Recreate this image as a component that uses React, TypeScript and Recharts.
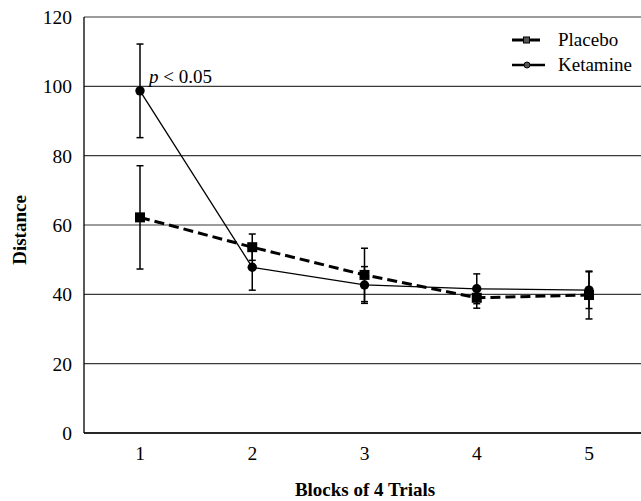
import React from 'react';
import {
  LineChart,
  Line,
  XAxis,
  YAxis,
  CartesianGrid,
  ErrorBar,
  Legend,
  LabelList,
} from 'recharts';

const blocks = ['1', '2', '3', '4', '5'];
const placeboMean = [62.2, 53.6, 45.6, 39.0, 39.8];
const placeboErr = [14.9, 3.8, 7.7, 3.0, 6.9];
const ketamineMean = [98.7, 47.8, 42.7, 41.6, 41.2];
const ketamineErr = [13.5, 6.6, 5.3, 4.3, 5.3];
const yTicks = [0, 20, 40, 60, 80, 100, 120];
const seriesNames = ['Placebo', 'Ketamine'];

const data = blocks.map((b, i) => ({
  block: b,
  placebo: placeboMean[i],
  placeboErr: placeboErr[i],
  ketamine: ketamineMean[i],
  ketamineErr: ketamineErr[i],
}));

const FONT = '"Liberation Serif", "Times New Roman", serif';

const SquareDot = (props: any) => {
  const { cx, cy } = props;
  if (cx == null || cy == null) return null;
  return <rect x={cx - 5} y={cy - 5} width={10} height={10} fill="#000" />;
};

const CircleDot = (props: any) => {
  const { cx, cy } = props;
  if (cx == null || cy == null) return null;
  return <circle cx={cx} cy={cy} r={4.7} fill="#000" />;
};

const renderLegend = () => (
  <svg width={136} height={56} style={{ display: 'block' }}>
    <line x1={7} x2={35} y1={15} y2={15} stroke="#000" strokeWidth={3} />
    <rect x={18.5} y={12} width={6} height={6} fill="#555" stroke="#000" strokeWidth={1} />
    <text x={53} y={21} fontFamily={FONT} fontSize={19} fill="#000">
      {seriesNames[0]}
    </text>
    <line x1={7} x2={40} y1={40} y2={40} stroke="#000" strokeWidth={2.5} />
    <circle cx={22} cy={40} r={3} fill="#555" stroke="#000" strokeWidth={1} />
    <text x={53} y={45.5} fontFamily={FONT} fontSize={19} fill="#000">
      {seriesNames[1]}
    </text>
  </svg>
);

const pLabel = (props: any) => {
  const { x, y, index } = props;
  if (index !== 0) return null;
  return (
    <text x={x + 9} y={y - 8} fontFamily={FONT} fontSize={19} fill="#000">
      <tspan fontStyle="italic">p</tspan>
      <tspan> &lt; 0.05</tspan>
    </text>
  );
};

const YLabel = () => (
  <text
    x={19}
    y={230}
    transform="rotate(-90, 19, 230)"
    textAnchor="middle"
    dominantBaseline="central"
    fontFamily={FONT}
    fontSize={19}
    fontWeight="bold"
    fill="#000"
  >
    Distance
  </text>
);

const XLabel = () => (
  <text x={365} y={496} textAnchor="middle" fontFamily={FONT} fontSize={19} fontWeight="bold" fill="#000">
    Blocks of 4 Trials
  </text>
);

export default function App() {
  return (
    <div style={{ width: 641, height: 501, position: 'relative', overflow: 'hidden', background: '#fff' }}>
      <style>{'html,body{margin:0;padding:0;overflow:hidden;}'}</style>
      <LineChart
        width={641}
        height={501}
        data={data}
        margin={{ top: 17, right: 0, left: 24, bottom: 0 }}
      >
        <CartesianGrid vertical={false} stroke="#3a3a3a" strokeWidth={1.2} />
        <XAxis
          dataKey="block"
          axisLine={{ stroke: '#000', strokeWidth: 1.3 }}
          tickLine={false}
          tickMargin={7}
          height={68}
          padding={{ left: 56, right: 52 }}
          tick={{ fontFamily: FONT, fontSize: 19.5, fill: '#000' }}
          label={<XLabel />}
        />
        <YAxis
          domain={[0, 120]}
          ticks={yTicks}
          width={60}
          axisLine={{ stroke: '#000', strokeWidth: 1.3 }}
          tickLine={false}
          tickMargin={6}
          interval={0}
          tick={{ fontFamily: FONT, fontSize: 19.5, fill: '#000' }}
          label={<YLabel />}
        />
        <Legend
          layout="horizontal"
          verticalAlign="middle"
          align="center"
          content={renderLegend}
          wrapperStyle={{ position: 'absolute', left: 505, top: 25, width: 136, height: 56 }}
        />
        <Line
          type="linear"
          dataKey="placebo"
          name={seriesNames[0]}
          stroke="#000"
          strokeWidth={3}
          strokeDasharray="10 5"
          dot={<SquareDot />}
          activeDot={false}
          isAnimationActive={false}
        >
          <ErrorBar dataKey="placeboErr" direction="y" width={3.5} stroke="#000" strokeWidth={1.5} />
        </Line>
        <Line
          type="linear"
          dataKey="ketamine"
          name={seriesNames[1]}
          stroke="#000"
          strokeWidth={1.3}
          dot={<CircleDot />}
          activeDot={false}
          isAnimationActive={false}
        >
          <ErrorBar dataKey="ketamineErr" direction="y" width={3.5} stroke="#000" strokeWidth={1.5} />
          <LabelList dataKey="ketamine" content={pLabel} />
        </Line>
      </LineChart>
    </div>
  );
}
